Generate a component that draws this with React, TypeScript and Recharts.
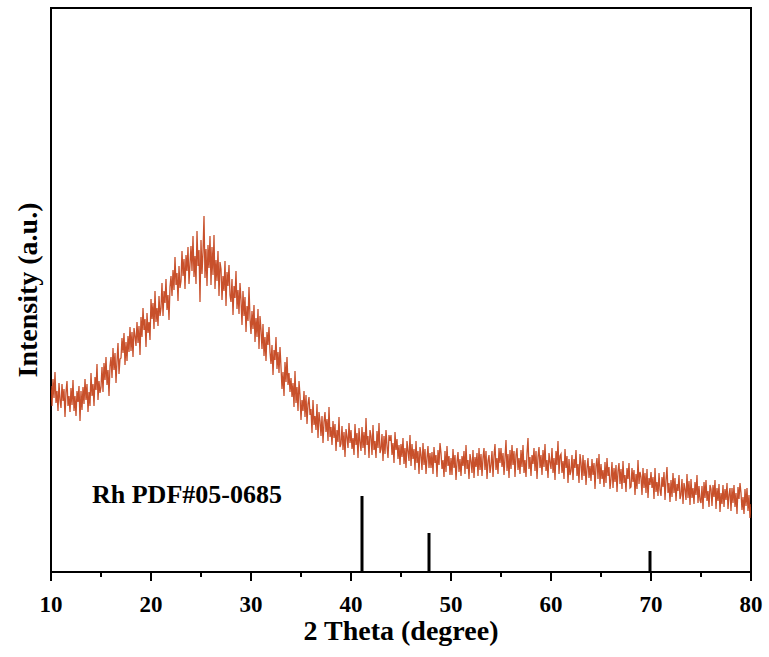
import React from 'react';
import {
  ComposedChart,
  Line,
  XAxis,
  YAxis,
  ReferenceLine,
  ReferenceArea,
} from 'recharts';

const FONT = '"Liberation Serif", "Times New Roman", serif';
const LINE_COLOR = '#C23D14';

// 2θ scan, 10° to 80° in 0.1° steps (one row per degree)
const TWO_THETA_START = 10;
const TWO_THETA_STEP = 0.1;
const INTENSITY = [
  186, 166, 193, 174, 200, 169, 181, 161, 189, 172,
  164, 188, 171, 183, 155, 180, 191, 166, 176, 160,
  184, 167, 192, 161, 176, 156, 181, 170, 186, 151,
  181, 162, 185, 168, 193, 172, 188, 160, 180, 166,
  199, 176, 188, 166, 195, 182, 208, 172, 191, 179,
  185, 205, 180, 209, 192, 215, 187, 202, 176, 206,
  215, 194, 224, 202, 219, 189, 211, 229, 198, 213,
  214, 234, 219, 239, 207, 230, 211, 236, 220, 245,
  221, 240, 215, 244, 236, 226, 250, 229, 246, 217,
  255, 235, 264, 242, 253, 225, 259, 239, 250, 232,
  273, 253, 269, 243, 281, 250, 264, 246, 276, 256,
  264, 289, 256, 281, 269, 293, 262, 277, 252, 285,
  296, 276, 302, 282, 315, 287, 299, 271, 306, 284,
  291, 321, 296, 313, 283, 317, 301, 325, 288, 308,
  326, 301, 336, 295, 316, 288, 341, 306, 322, 270,
  332, 298, 320, 356, 294, 323, 286, 327, 304, 336,
  287, 325, 297, 337, 283, 312, 291, 321, 276, 310,
  303, 272, 296, 281, 311, 266, 300, 286, 307, 277,
  270, 293, 257, 286, 274, 301, 263, 282, 258, 289,
  272, 247, 281, 256, 275, 240, 266, 251, 285, 254,
  238, 261, 243, 267, 230, 254, 235, 263, 223, 256,
  242, 223, 248, 216, 235, 211, 240, 227, 245, 220,
  208, 227, 197, 222, 212, 235, 203, 220, 199, 225,
  205, 183, 200, 176, 210, 190, 215, 187, 199, 180,
  194, 175, 189, 165, 201, 169, 185, 161, 191, 177,
  152, 172, 161, 181, 155, 177, 148, 168, 175, 157,
  163, 139, 172, 147, 156, 142, 168, 134, 160, 151,
  136, 156, 129, 150, 160, 140, 153, 131, 165, 135,
  145, 127, 151, 134, 148, 121, 142, 130, 155, 125,
  128, 146, 122, 140, 115, 143, 135, 124, 149, 129,
  142, 123, 134, 117, 148, 127, 139, 114, 144, 130,
  121, 145, 124, 140, 117, 154, 127, 136, 114, 142,
  136, 117, 147, 122, 131, 114, 141, 124, 149, 119,
  123, 138, 111, 136, 118, 142, 126, 114, 137, 131,
  137, 117, 129, 109, 140, 122, 133, 113, 127, 107,
  128, 115, 134, 108, 124, 104, 131, 121, 111, 137,
  106, 128, 113, 123, 102, 131, 109, 121, 98, 125,
  117, 102, 129, 107, 123, 98, 114, 126, 104, 119,
  104, 120, 98, 125, 109, 117, 95, 122, 107, 129,
  119, 103, 112, 95, 121, 100, 126, 106, 116, 97,
  114, 97, 123, 104, 117, 92, 110, 120, 100, 113,
  96, 116, 106, 121, 98, 127, 103, 112, 93, 118,
  111, 99, 122, 94, 115, 105, 119, 96, 124, 102,
  118, 96, 114, 124, 102, 121, 93, 111, 117, 99,
  107, 121, 95, 116, 128, 102, 114, 98, 124, 109,
  124, 105, 119, 97, 114, 132, 101, 118, 94, 122,
  103, 127, 107, 121, 95, 117, 124, 102, 114, 98,
  122, 105, 127, 99, 112, 95, 119, 134, 103, 115,
  96, 117, 108, 124, 101, 121, 93, 115, 125, 104,
  117, 97, 122, 105, 128, 101, 112, 94, 119, 110,
  103, 124, 99, 114, 92, 121, 107, 131, 98, 116,
  118, 99, 111, 93, 123, 104, 116, 89, 113, 97,
  101, 117, 92, 113, 104, 122, 96, 108, 89, 118,
  109, 92, 117, 96, 112, 87, 104, 114, 94, 106,
  91, 113, 97, 109, 83, 106, 114, 93, 118, 88,
  108, 93, 102, 85, 110, 89, 114, 96, 105, 83,
  93, 110, 84, 104, 90, 107, 80, 101, 109, 88,
  103, 83, 111, 89, 97, 80, 104, 93, 109, 84,
  85, 104, 90, 102, 77, 98, 83, 112, 88, 100,
  95, 77, 104, 84, 99, 79, 103, 74, 94, 87,
  100, 84, 95, 73, 104, 80, 90, 76, 99, 82,
  76, 95, 85, 100, 72, 92, 105, 79, 89, 70,
  92, 75, 99, 79, 94, 71, 88, 81, 97, 73,
  77, 93, 68, 89, 83, 72, 98, 74, 91, 67,
  93, 74, 84, 68, 90, 77, 97, 69, 86, 72,
  69, 86, 63, 90, 74, 92, 71, 81, 65, 87,
  83, 66, 87, 75, 92, 63, 84, 71, 88, 60,
  79, 68, 87, 65, 83, 72, 89, 63, 77, 84,
  61, 84, 69, 87, 65, 79, 58, 85, 73, 89,
  79, 62, 75, 58, 83, 66, 84, 61, 77, 54,
  68,
];

// Rh reference pattern (PDF#05-0685)
const RH_PEAKS = [41.1, 47.8, 69.9];
const RH_HEIGHTS = [76, 39, 21];

const X_TICKS = [10, 15, 20, 25, 30, 35, 40, 45, 50, 55, 60, 65, 70, 75, 80];

const data = INTENSITY.map((v, i) => ({
  x: +(TWO_THETA_START + i * TWO_THETA_STEP).toFixed(1),
  v,
}));

function XTick(props: any) {
  const { x, y, payload } = props;
  const major = payload.value % 10 === 0;
  return (
    <g>
      <line x1={x} x2={x} y1={y} y2={y + (major ? 9 : 5)} stroke="#000" strokeWidth={2} />
      {major && (
        <text x={x} y={y + 40} textAnchor="middle" fontFamily={FONT} fontWeight="bold" fontSize={23} fill="#000">
          {payload.value}
        </text>
      )}
    </g>
  );
}

export default function App() {
  return (
    <div style={{ position: 'absolute', left: 0, top: 0, width: 769, height: 657, background: '#fff' }}>
      <ComposedChart width={769} height={657} data={data} margin={{ top: 8, right: 18, left: 0, bottom: 0 }}>
        <XAxis
          type="number"
          dataKey="x"
          domain={[10, 80]}
          ticks={X_TICKS}
          allowDataOverflow
          height={85}
          tickSize={0}
          tickMargin={0}
          tickLine={false}
          axisLine={false}
          tick={<XTick />}
          interval={0}
          label={{
            content: () => (
              <text x={401} y={640} textAnchor="middle" fontFamily={FONT} fontWeight="bold" fontSize={28} fill="#000">
                2 Theta (degree)
              </text>
            ),
          }}
        />
        <YAxis
          type="number"
          domain={[0, 564]}
          width={51}
          tick={false}
          tickLine={false}
          axisLine={false}
          label={{
            content: () => (
              <text
                x={37}
                y={290}
                transform="rotate(-90 37 290)"
                textAnchor="middle"
                fontFamily={FONT}
                fontWeight="bold"
                fontSize={28}
                fill="#000"
              >
                Intensity (a.u.)
              </text>
            ),
          }}
        />
        <Line
          type="linear"
          dataKey="v"
          stroke={LINE_COLOR}
          strokeWidth={1.3}
          strokeOpacity={0.9}
          dot={false}
          activeDot={false}
          isAnimationActive={false}
        />
        {RH_PEAKS.map((p, i) => (
          <ReferenceLine
            key={p}
            segment={[
              { x: p, y: 0 },
              { x: p, y: RH_HEIGHTS[i] },
            ]}
            stroke="#000"
            strokeWidth={3}
          />
        ))}
        <ReferenceArea
          x1={10}
          x2={80}
          y1={0}
          y2={564}
          fill="none"
          fillOpacity={0}
          stroke="#000"
          strokeWidth={2}
          ifOverflow="visible"
        />
        <text x={92} y={503} fontFamily={FONT} fontWeight="bold" fontSize={26} fill="#000">
          Rh PDF#05-0685
        </text>
      </ComposedChart>
    </div>
  );
}
